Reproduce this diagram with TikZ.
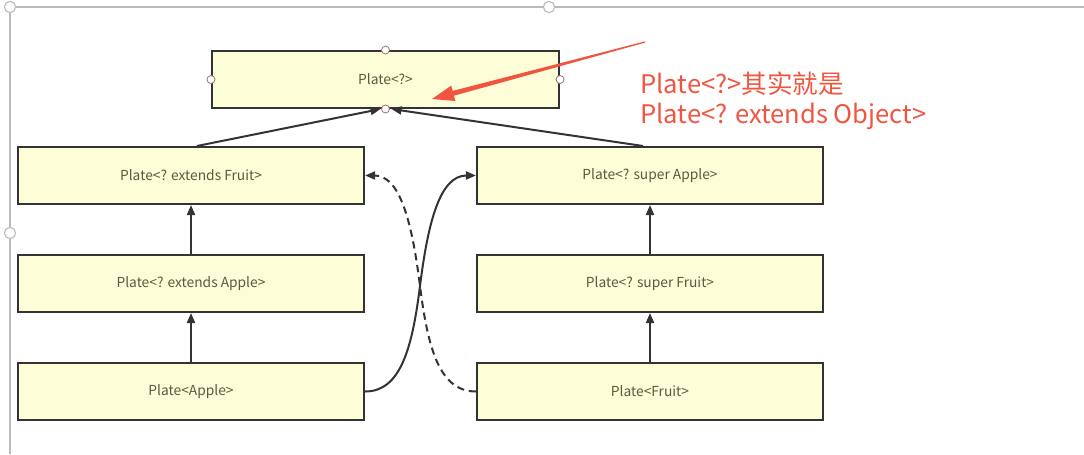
\documentclass[tikz,border=0pt]{standalone}
\usepackage{fontspec}
\setmainfont{Noto Sans CJK SC}
\usetikzlibrary{arrows.meta,calc}

\definecolor{boxfill}{HTML}{FDFDD8}
\definecolor{boxtext}{HTML}{5A5A40}
\definecolor{boxline}{HTML}{333333}
\definecolor{noteRed}{HTML}{F2553F}
\definecolor{frameGray}{HTML}{BBBBBB}
\definecolor{handleRed}{HTML}{A07878}

\tikzset{
  plate/.style={draw=boxline, line width=0.05cm, fill=boxfill, text=boxtext,
    font=\fontsize{9.8}{12}\selectfont, minimum width=8.65cm, minimum height=1.425cm, inner sep=0pt},
  arr/.style={draw=boxline, line width=0.05cm, -{Triangle[length=0.25cm,width=0.2cm]}},
  handle/.style={circle, draw=handleRed, fill=white, line width=0.6pt, minimum size=0.2cm, inner sep=0pt},
  fhandle/.style={circle, draw=frameGray, fill=white, line width=0.8pt, minimum size=0.28cm, inner sep=0pt}
}

\begin{document}
\begin{tikzpicture}[x=0.025cm, y=-0.025cm]

   \useasboundingbox (0,0) rectangle (1084,454);

% selection frame
   \draw[frameGray, line width=1pt] (1084,7) -- (10,7) -- (10,454);
   \node[fhandle] (fa) at (10,7) {};
   \node[fhandle] (fb) at (549,7) {};
   \node[fhandle] (fc) at (10,233) {};

% boxes
   \node[plate, minimum width=8.675cm] (top) at (385.5,79.5) {Plate<?>};
   \node[plate] (ef) at (191,175.5) {Plate<? extends Fruit>};
   \node[plate] (ea) at (191,283.5) {Plate<? extends Apple>};
   \node[plate] (pa) at (191,391.5) {Plate<Apple>};
   \node[plate] (sa) at (650,175.5) {Plate<? super Apple>};
   \node[plate] (sf) at (650,283.5) {Plate<? super Fruit>};
   \node[plate] (pf) at (650,391.5) {Plate<Fruit>};

% arrows
   \draw[arr] ($(ef.north)+(6,0)$) -- ($(top.south)+(-5,0)$);
   \draw[arr] ($(sa.north)+(-7,0)$) -- ($(top.south)+(6,0)$);
   \draw[arr] (ea.north) -- (ef.south);
   \draw[arr] (pa.north) -- (ea.south);
   \draw[arr] (sf.north) -- (sa.south);
   \draw[arr] (pf.north) -- (sf.south);
   \coordinate (cross) at (420,286);
   \draw[arr] (pa.east) .. controls (400,391.5) and (412,350) .. (cross)
     .. controls (428,222) and (440,175.5) .. (sa.west);
   \draw[arr, dash pattern=on 0.18cm off 0.12cm] (pf.west) .. controls (440,391.5) and (428,350) .. (cross)
     .. controls (412,222) and (400,175.5) .. (ef.east);

% handles of the top box
   \node[handle] (hn) at (top.north) {};
   \node[handle] (hw) at (top.west) {};
   \node[handle] (he) at (top.east) {};
   \node[handle] (hs) at (top.south) {};

% note
   \node[anchor=north west, text=noteRed, font=\fontsize{18.2}{21}\selectfont,
     align=left, inner sep=0pt] (note) at (640,72) {Plate<?>其实就是\\Plate<? extends Object>};
   \coordinate (redtail) at (645,42);
   \coordinate (redtip) at (432,99);
   \fill[noteRed] (644.8,41.4) -- (452.7,90.9) -- (451.2,85.6) -- (redtip)
     -- (455.4,101.0) -- (453.9,95.7) -- (645.2,42.6) -- cycle;

\end{tikzpicture}
\end{document}
